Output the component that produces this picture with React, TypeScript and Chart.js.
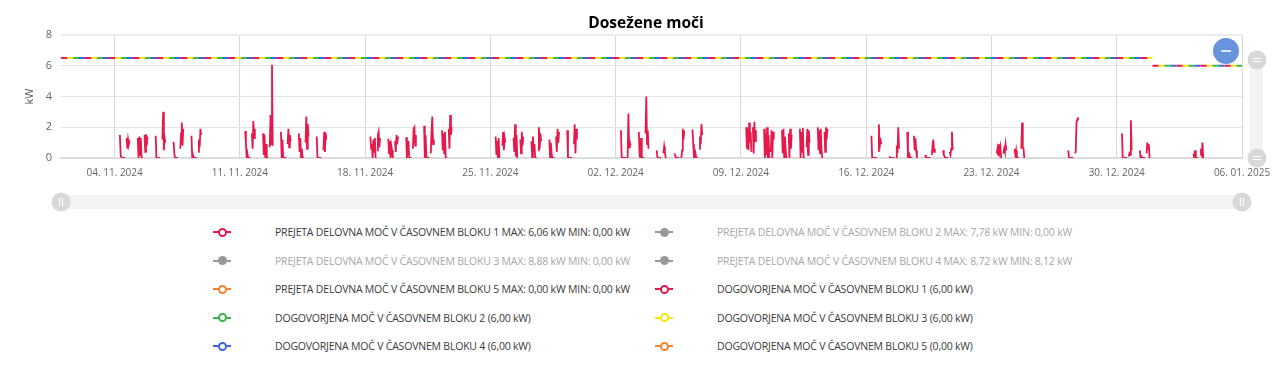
import React, { useEffect, useRef } from "react";
import { Chart, registerables } from "chart.js";

Chart.register(...registerables);

// ---------- DATA ----------
const chartTitle = "Dosežene moči";
const startDate = "2024-11-01";
const endDate = "2025-01-06";
const xTickDates = [
  "2024-11-04", "2024-11-11", "2024-11-18", "2024-11-25", "2024-12-02",
  "2024-12-09", "2024-12-16", "2024-12-23", "2024-12-30", "2025-01-06",
];
const yTicks = [0, 2, 4, 6, 8];

const seriesLabels = [
  "PREJETA DELOVNA MOČ V ČASOVNEM BLOKU 1 MAX: 6,06 kW MIN: 0,00 kW",
  "PREJETA DELOVNA MOČ V ČASOVNEM BLOKU 2 MAX: 7,78 kW MIN: 0,00 kW",
  "PREJETA DELOVNA MOČ V ČASOVNEM BLOKU 3 MAX: 8,88 kW MIN: 0,00 kW",
  "PREJETA DELOVNA MOČ V ČASOVNEM BLOKU 4 MAX: 8,72 kW MIN: 8,12 kW",
  "PREJETA DELOVNA MOČ V ČASOVNEM BLOKU 5 MAX: 0,00 kW MIN: 0,00 kW",
  "DOGOVORJENA MOČ V ČASOVNEM BLOKU 1 (6,00 kW)",
  "DOGOVORJENA MOČ V ČASOVNEM BLOKU 2 (6,00 kW)",
  "DOGOVORJENA MOČ V ČASOVNEM BLOKU 3 (6,00 kW)",
  "DOGOVORJENA MOČ V ČASOVNEM BLOKU 4 (6,00 kW)",
  "DOGOVORJENA MOČ V ČASOVNEM BLOKU 5 (0,00 kW)",
];
const seriesColors = [
  "#e6194b", "#999999", "#999999", "#999999", "#f58231",
  "#e6194b", "#3cb44b", "#ffe119", "#4363d8", "#f58231",
];
const seriesHidden = [false, true, true, true, false, false, false, false, false, false];

// Block 1 received active power: working days, hourly values
const workdays = [
  "2024-11-04", "2024-11-05", "2024-11-06", "2024-11-07", "2024-11-08",
  "2024-11-11", "2024-11-12", "2024-11-13", "2024-11-14", "2024-11-15",
  "2024-11-18", "2024-11-19", "2024-11-20", "2024-11-21", "2024-11-22",
  "2024-11-25", "2024-11-26", "2024-11-27", "2024-11-28", "2024-11-29",
  "2024-12-02", "2024-12-03", "2024-12-04", "2024-12-05", "2024-12-06",
  "2024-12-09", "2024-12-10", "2024-12-11", "2024-12-12", "2024-12-13",
  "2024-12-16", "2024-12-17", "2024-12-18", "2024-12-19", "2024-12-20",
  "2024-12-23", "2024-12-24", "2024-12-27", "2024-12-30", "2024-12-31",
  "2025-01-03",
];
const morningStartHour = 7;
const eveningStartHour = 16;
const morningKw = [
  [1.5, 0.2, 0.0, 0.0, 0.0, 0.0, 0.0, 0.0],
  [1.3, 0.0, 1.4, 0.2, 1.3, 0.0, 0.0, 0.0],
  [1.45, 0.0, 0.0, 0.0, 0.0, 0.0, 0.0, 0.0],
  [1.05, 0.3, 0.0, 0.0, 0.0, 0.0, 0.0, 0.0],
  [1.45, 0.0, 0.2, 0.0, 0.0, 0.0, 0.0, 0.0],
  [1.75, 1.0, 0.0, 0.3, 0.0, 0.0, 0.0, 0.0],
  [1.6, 0.2, 1.5, 0.0, 0.9, 0.0, 0.0, 0.0],
  [1.7, 0.0, 1.2, 0.0, 0.0, 0.0, 0.0, 0.0],
  [1.6, 0.4, 1.3, 0.0, 0.6, 0.0, 0.0, 0.0],
  [1.4, 0.0, 0.0, 0.0, 0.0, 0.0, 0.0, 0.0],
  [1.4, 0.6, 0.9, 0.0, 1.2, 0.4, 1.3, 0.0],
  [1.25, 0.3, 1.1, 0.0, 0.8, 0.5, 0.0, 0.0],
  [1.35, 0.0, 0.7, 1.1, 0.0, 0.0, 0.0, 0.0],
  [2.1, 0.0, 1.5, 0.2, 0.0, 0.0, 0.0, 0.0],
  [1.8, 0.5, 1.6, 0.3, 1.7, 0.0, 0.0, 0.0],
  [1.4, 0.2, 1.1, 0.0, 1.3, 0.0, 0.0, 0.0],
  [1.3, 0.4, 2.2, 0.1, 1.5, 0.0, 0.0, 0.0],
  [1.1, 0.0, 1.4, 0.5, 0.9, 0.0, 0.0, 0.0],
  [1.2, 0.0, 1.0, 0.3, 0.0, 0.0, 0.0, 0.0],
  [1.8, 0.0, 0.0, 0.0, 0.0, 0.0, 0.0, 0.0],
  [1.8, 0.0, 0.0, 0.0, 0.0, 0.0, 0.0, 0.0],
  [1.7, 0.2, 0.0, 1.3, 0.0, 0.0, 0.0, 0.0],
  [0.5, 0.0, 0.0, 0.0, 0.0, 0.0, 0.0, 0.0],
  [0.3, 0.1, 0.0, 0.0, 0.0, 0.0, 0.0, 0.0],
  [1.85, 0.9, 0.0, 0.0, 0.3, 0.0, 0.0, 0.0],
  [2.0, 0.6, 1.9, 0.5, 2.3, 1.0, 1.7, 0.4],
  [1.9, 0.0, 1.6, 0.2, 2.0, 0.0, 1.5, 0.0],
  [1.8, 0.3, 1.9, 0.0, 1.4, 0.5, 0.0, 0.0],
  [1.9, 0.0, 1.7, 0.4, 1.95, 0.0, 0.0, 0.0],
  [2.0, 0.5, 1.8, 0.3, 1.9, 0.6, 0.0, 0.0],
  [1.45, 0.0, 0.0, 0.0, 0.0, 0.0, 0.0, 0.0],
  [0.1, 0.0, 0.0, 0.0, 0.0, 0.0, 0.0, 0.0],
  [1.7, 0.0, 0.0, 0.2, 0.0, 0.0, 0.0, 0.0],
  [0.2, 0.0, 0.0, 0.0, 0.0, 0.0, 0.0, 0.0],
  [0.5, 0.2, 0.1, 0.0, 0.0, 0.0, 0.0, 0.0],
  [0.3, 0.6, 0.2, 0.9, 0.4, 0.7, 0.0, 0.0],
  [0.6, 0.2, 0.5, 0.0, 0.0, 0.0, 0.0, 0.0],
  [0.5, 0.0, 0.0, 0.0, 0.0, 0.0, 0.0, 0.0],
  [1.6, 0.0, 0.0, 0.0, 0.0, 0.0, 0.0, 0.0],
  [0.5, 0.0, 0.1, 0.0, 0.0, 0.0, 0.0, 0.0],
  [0.3, 0.0, 0.5, 0.0, 0.0, 0.0, 0.0, 0.0],
];
const eveningKw = [
  [1.3, 0.6, 1.2, 0.9, 1.1],
  [1.5, 0.4, 1.55, 0.8, 1.4],
  [1.2, 3.0, 0.5, 1.3, 1.0],
  [0.6, 1.6, 2.3, 0.8, 1.9],
  [0.4, 1.2, 0.7, 1.9, 1.5],
  [1.6, 0.6, 2.4, 1.3, 1.9],
  [0.7, 2.8, 0.9, 6.06, 0.8],
  [0.9, 1.9, 0.7, 1.5, 1.1],
  [1.0, 2.7, 0.6, 2.2, 1.4],
  [0.5, 1.7, 0.4, 1.6, 1.2],
  [0.5, 1.5, 1.7, 0.7, 1.3],
  [1.1, 0.4, 1.5, 0.9, 1.4],
  [0.6, 1.9, 2.0, 0.8, 1.5],
  [0.3, 1.8, 2.7, 0.9, 1.2],
  [1.9, 0.6, 2.8, 1.5, 2.0],
  [0.8, 1.7, 0.5, 1.3, 1.0],
  [1.2, 0.3, 1.7, 0.8, 1.4],
  [0.5, 2.0, 0.6, 1.6, 1.1],
  [1.4, 0.4, 1.9, 1.0, 1.7],
  [0.9, 2.2, 0.3, 1.9, 1.2],
  [0.0, 2.9, 0.7, 1.0, 0.8],
  [1.6, 4.0, 0.9, 1.8, 0.6],
  [0.3, 0.75, 0.4, 0.0, 0.0],
  [0.0, 0.5, 1.9, 1.2, 1.8],
  [0.6, 1.4, 0.9, 2.2, 1.5],
  [2.0, 0.3, 2.35, 1.1, 1.8],
  [0.4, 1.8, 0.0, 1.7, 1.2],
  [1.6, 0.0, 1.9, 0.6, 1.5],
  [0.7, 1.9, 0.2, 1.8, 1.0],
  [1.7, 0.4, 2.0, 1.2, 1.9],
  [0.45, 2.2, 0.6, 1.3, 0.9],
  [0.0, 0.6, 0.5, 2.0, 0.6],
  [1.45, 0.5, 1.3, 0.5, 0.0],
  [0.2, 0.8, 1.2, 0.4, 0.6],
  [0.4, 0.2, 0.6, 1.7, 0.5],
  [0.3, 0.6, 0.4, 0.9, 0.5],
  [0.6, 2.3, 0.7, 0.6, 0.0],
  [0.3, 0.4, 2.3, 2.5, 2.65],
  [0.1, 0.3, 0.2, 2.45, 0.5],
  [0.3, 1.0, 0.6, 0.9, 0.0],
  [0.2, 0.6, 0.3, 1.0, 0.0],
];

// Contracted power (shown for blocks 1-4): segments
const contractedFrom = ["2024-11-01", "2025-01-01"];
const contractedTo = ["2025-01-01", "2025-01-06"];
const contractedKw = [6.5, 6.0];

// ---------- HELPERS ----------
const DAY_MS = 86400000;
const toDays = (iso: string) => {
  const [y, m, d] = iso.split("-").map(Number);
  return (Date.UTC(y, m - 1, d) - Date.UTC(2024, 10, 1)) / DAY_MS;
};
const fmtDate = (days: number) => {
  const [y, m, d] = startDate.split("-").map(Number);
  const dt = new Date(Date.UTC(y, m - 1, d) + Math.round(days * DAY_MS));
  const dd = String(dt.getUTCDate()).padStart(2, "0");
  const mm = String(dt.getUTCMonth() + 1).padStart(2, "0");
  return `${dd}. ${mm}. ${dt.getUTCFullYear()}`;
};

function buildBlock1() {
  const pts: { x: number; y: number | null }[] = [];
  workdays.forEach((day, i) => {
    const base = toDays(day);
    morningKw[i].forEach((v, h) => pts.push({ x: base + (morningStartHour + h) / 24, y: v }));
    pts.push({ x: base + (morningStartHour + morningKw[i].length) / 24, y: null });
    eveningKw[i].forEach((v, h) => pts.push({ x: base + (eveningStartHour + h) / 24, y: v }));
    pts.push({ x: base + (eveningStartHour + eveningKw[i].length) / 24, y: null });
  });
  return pts;
}
function buildContracted() {
  const pts: { x: number; y: number | null }[] = [];
  contractedKw.forEach((kw, i) => {
    pts.push({ x: toDays(contractedFrom[i]), y: kw });
    pts.push({ x: toDays(contractedTo[i]), y: kw });
    pts.push({ x: toDays(contractedTo[i]), y: null });
  });
  return pts;
}

const FONT = "'Open Sans', 'DejaVu Sans', sans-serif";

const decorPlugin = {
  id: "decor",
  afterDraw(chart: any) {
    const { ctx, chartArea: a } = chart;
    ctx.save();
    // horizontal scrollbar
    ctx.fillStyle = "#f3f3f3";
    ctx.fillRect(a.left, 195, a.right - a.left, 14);
    // vertical scrollbar
    ctx.fillRect(1250, a.top + 17, 13, a.bottom - a.top - 17);
    const grip = (x: number, y: number, vertical: boolean) => {
      ctx.beginPath();
      ctx.arc(x, y, 9.5, 0, Math.PI * 2);
      ctx.fillStyle = "#d9d9d9";
      ctx.fill();
      ctx.strokeStyle = "#ffffff";
      ctx.lineWidth = 1.2;
      ctx.beginPath();
      if (vertical) {
        ctx.moveTo(x - 1.5, y - 4); ctx.lineTo(x - 1.5, y + 4);
        ctx.moveTo(x + 1.5, y - 4); ctx.lineTo(x + 1.5, y + 4);
      } else {
        ctx.moveTo(x - 4, y - 1.5); ctx.lineTo(x + 4, y - 1.5);
        ctx.moveTo(x - 4, y + 1.5); ctx.lineTo(x + 4, y + 1.5);
      }
      ctx.stroke();
    };
    grip(a.left, 202, true);
    grip(a.right, 202, true);
    grip(1257, a.top + 25, false);
    grip(1257, a.bottom, false);
    // zoom-out button
    ctx.beginPath();
    ctx.arc(a.right - 16, a.top + 16, 13, 0, Math.PI * 2);
    ctx.fillStyle = "#6794dc";
    ctx.fill();
    ctx.strokeStyle = "#ffffff";
    ctx.lineWidth = 1.5;
    ctx.beginPath();
    ctx.moveTo(a.right - 21, a.top + 16);
    ctx.lineTo(a.right - 11, a.top + 16);
    ctx.stroke();
    ctx.restore();
  },
};

export default function App() {
  const canvasRef = useRef<HTMLCanvasElement | null>(null);

  useEffect(() => {
    if (!canvasRef.current) return;
    const block1 = buildBlock1();
    const contracted = buildContracted();
    const dashes: Record<number, { dash: number[]; offset: number }> = {
      5: { dash: [6, 18], offset: 0 },
      6: { dash: [6, 18], offset: -12 },
      7: { dash: [6, 18], offset: -6 },
      8: { dash: [6, 18], offset: -18 },
      9: { dash: [6, 18], offset: 0 },
    };
    const datasets = seriesLabels.map((label, i) => {
      const isContracted = i >= 5;
      let data: any[] = [];
      if (i === 0) data = block1;
      if (isContracted && i !== 9) data = contracted;
      return {
        label,
        data,
        hidden: seriesHidden[i],
        borderColor: seriesColors[i],
        backgroundColor: seriesColors[i],
        borderWidth: isContracted ? 2 : 1.8,
        borderDash: isContracted ? dashes[i].dash : [],
        borderDashOffset: isContracted ? dashes[i].offset : 0,
        pointRadius: 0,
        spanGaps: false,
        tension: 0,
        fill: false,
      };
    });
    const xTickValues = xTickDates.map(toDays);
    const chart = new Chart(canvasRef.current, {
      type: "line",
      data: { datasets },
      plugins: [decorPlugin],
      options: {
        responsive: false,
        animation: false,
        layout: { padding: { left: 0, right: 38, top: 35, bottom: 0 } },
        plugins: {
          legend: { display: false },
          tooltip: { enabled: false },
          title: { display: false },
        },
        scales: {
          x: {
            type: "linear",
            min: toDays(startDate),
            max: toDays(endDate),
            afterBuildTicks: (scale: any) => {
              scale.ticks = xTickValues.map((v) => ({ value: v }));
            },
            afterFit: (scale: any) => {
              scale.height = 57;
            },
            ticks: {
              callback: (v: any) => fmtDate(Number(v)),
              color: "#666666",
              font: { family: FONT, size: 10 },
              padding: 9,
              maxRotation: 0,
              autoSkip: false,
            },
            grid: { color: "#d9d9d9", lineWidth: 1, drawTicks: false },
            border: { display: true, color: "#dcdcdc", width: 2 },
          },
          y: {
            min: 0,
            max: 8,
            afterBuildTicks: (scale: any) => {
              scale.ticks = yTicks.map((v) => ({ value: v }));
            },
            afterFit: (scale: any) => {
              scale.width = 61;
            },
            ticks: {
              color: "#666666",
              font: { family: FONT, size: 11 },
              padding: 9,
            },
            grid: {
              color: (c: any) => (c.tick && c.tick.value === 8 ? "#ececec" : "#e4e4e4"),
              lineWidth: (c: any) => (c.tick && c.tick.value === 8 ? 2 : 1),
              drawTicks: false,
            },
            border: { display: false },
            title: {
              display: true,
              text: "kW",
              color: "#555555",
              font: { family: FONT, size: 11 },
              padding: { top: 23, bottom: 0 },
            },
          },
        },
      },
    });
    return () => chart.destroy();
  }, []);

  const rowY = [232, 260.5, 289, 317.5, 346];
  return (
    <div
      style={{
        position: "absolute",
        left: 0,
        top: 0,
        width: 1280,
        height: 369,
        background: "#ffffff",
        fontFamily: FONT,
        overflow: "hidden",
      }}
    >
      <canvas ref={canvasRef} width={1280} height={215} style={{ position: "absolute", left: 0, top: 0 }} />
      <div
        style={{
          position: "absolute",
          left: 546,
          top: 12,
          width: 200,
          height: 20,
          lineHeight: "20px",
          textAlign: "center",
          fontSize: 15.5,
          fontWeight: 700,
          color: "#000000",
          whiteSpace: "nowrap",
        }}
      >
        {chartTitle}
      </div>
      {seriesLabels.map((label, i) => {
        const col = i % 2;
        const row = Math.floor(i / 2);
        const cy = rowY[row];
        const mx = col === 0 ? 222 : 664;
        const tx = col === 0 ? 275 : 717;
        const hidden = seriesHidden[i];
        const color = seriesColors[i];
        return (
          <React.Fragment key={i}>
            <div
              style={{
                position: "absolute",
                left: mx - 9,
                top: cy - 1,
                width: 18,
                height: 2,
                background: color,
              }}
            />
            <div
              style={{
                position: "absolute",
                left: mx - 4.5,
                top: cy - 4.5,
                width: hidden ? 9 : 5,
                height: hidden ? 9 : 5,
                borderRadius: "50%",
                background: hidden ? color : "#ffffff",
                border: hidden ? "none" : `2px solid ${color}`,
              }}
            />
            <div
              style={{
                position: "absolute",
                left: tx,
                top: cy - 8,
                height: 16,
                lineHeight: "16px",
                fontSize: 10.5,
                letterSpacing: "-0.2px",
                color: hidden ? "#a8a8a8" : "#3a3a3a",
                whiteSpace: "nowrap",
              }}
            >
              {label}
            </div>
          </React.Fragment>
        );
      })}
    </div>
  );
}
